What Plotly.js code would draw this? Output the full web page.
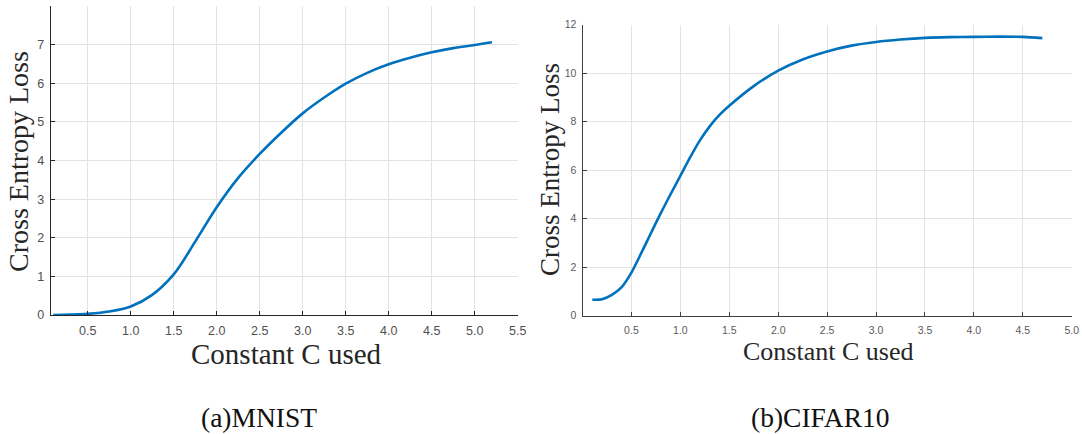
<!DOCTYPE html>
<html>
<head>
<meta charset="utf-8">
<script src="https://cdn.plot.ly/plotly-3.0.1.min.js"></script>
<style>html,body{margin:0;padding:0;background:#fff;}#chart{width:1082px;height:434px;}</style>
</head>
<body>
<div id="chart"></div>
<script>
// ---- data ----
const mnistC    = [0.1, 0.3, 0.5, 0.75, 1.0, 1.25, 1.5, 1.75, 2.0, 2.25, 2.5, 2.75, 3.0, 3.25, 3.5, 3.75, 4.0, 4.25, 4.5, 4.75, 5.0, 5.2];
const mnistLoss = [0.0, 0.01, 0.03, 0.09, 0.22, 0.52, 1.05, 1.9, 2.79, 3.55, 4.17, 4.72, 5.22, 5.63, 5.99, 6.27, 6.49, 6.66, 6.80, 6.91, 6.99, 7.06];

const cifarC    = [0.1, 0.2, 0.3, 0.4, 0.5, 0.6, 0.7, 0.8, 0.9, 1.0, 1.1, 1.2, 1.3, 1.4, 1.5, 1.75, 2.0, 2.25, 2.5, 2.75, 3.0, 3.25, 3.5, 3.75, 4.0, 4.25, 4.5, 4.7];
const cifarLoss = [0.65, 0.67, 0.85, 1.17, 1.77, 2.57, 3.4, 4.22, 5.0, 5.76, 6.52, 7.22, 7.8, 8.27, 8.65, 9.46, 10.1, 10.56, 10.89, 11.13, 11.28, 11.38, 11.45, 11.48, 11.49, 11.5, 11.49, 11.44];

const mnistXTicks = [0.5, 1.0, 1.5, 2.0, 2.5, 3.0, 3.5, 4.0, 4.5, 5.0, 5.5];
const mnistXText  = ["0.5","1.0","1.5","2.0","2.5","3.0","3.5","4.0","4.5","5.0","5.5"];
const mnistYTicks = [0, 1, 2, 3, 4, 5, 6, 7];
const cifarXTicks = [0.5, 1.0, 1.5, 2.0, 2.5, 3.0, 3.5, 4.0, 4.5, 5.0];
const cifarXText  = ["0.5","1.0","1.5","2.0","2.5","3.0","3.5","4.0","4.5","5.0"];
const cifarYTicks = [0, 2, 4, 6, 8, 10, 12];

const yTitle = "Cross Entropy Loss";
const xTitle = "Constant C used";
const captions = ["(a)MNIST", "(b)CIFAR10"];

// ---- layout helpers (pixel -> paper) ----
const W = 1082, H = 434;
const fx = p => p / W;
const fy = p => 1 - p / H;

const lineColor = "#0072BD";
const serif = "Liberation Serif, Times New Roman, serif";
const sans = "Liberation Sans, Arial, sans-serif";

const traces = [
  {x: mnistC, y: mnistLoss, xaxis: "x", yaxis: "y", mode: "lines", type: "scatter",
   line: {color: lineColor, width: 2.6, shape: "spline", smoothing: 1}, hoverinfo: "skip"},
  {x: cifarC, y: cifarLoss, xaxis: "x2", yaxis: "y2", mode: "lines", type: "scatter",
   line: {color: lineColor, width: 2.6, shape: "spline", smoothing: 0.8}, hoverinfo: "skip"}
];

function axisBase(lc, tc, fs) {
  return {
    showline: true, linecolor: lc, linewidth: 1, mirror: false,
    ticks: "inside", ticklen: 4, tickcolor: lc, tickwidth: 1,
    showgrid: true, gridcolor: "#e3e3e3", gridwidth: 1,
    zeroline: false, fixedrange: true, automargin: false,
    tickfont: {family: sans, size: fs, color: tc}
  };
}

const layout = {
  width: W, height: H,
  margin: {l: 0, r: 0, t: 0, b: 0},
  paper_bgcolor: "#fff", plot_bgcolor: "#fff",
  showlegend: false,
  xaxis: Object.assign(axisBase("#262626", "#505050", 12.5), {
    domain: [fx(50.7), fx(517.7)], range: [0.07, 5.5], anchor: "y",
    tickmode: "array", tickvals: mnistXTicks, ticktext: mnistXText, ticklabelstandoff: 4
  }),
  yaxis: Object.assign(axisBase("#262626", "#505050", 12.5), {
    domain: [fy(315), fy(6)], range: [0, 8], anchor: "x",
    tickmode: "array", tickvals: mnistYTicks, ticklabelstandoff: 3
  }),
  xaxis2: Object.assign(axisBase("#404040", "#5a5a5a", 10.5), {
    domain: [fx(582.5), fx(1071.7)], range: [0, 5], anchor: "y2",
    tickmode: "array", tickvals: cifarXTicks, ticktext: cifarXText, ticklabelstandoff: 5
  }),
  yaxis2: Object.assign(axisBase("#404040", "#5a5a5a", 10.5), {
    domain: [fy(315.5), fy(24.5)], range: [0, 12], anchor: "x2",
    tickmode: "array", tickvals: cifarYTicks, ticklabelstandoff: 3
  }),
  annotations: [
    {text: yTitle, xref: "paper", yref: "paper", x: fx(18.5), y: fy(161.5), textangle: -90,
     showarrow: false, xanchor: "center", yanchor: "middle",
     font: {family: serif, size: 28, color: "#262626"}},
    {text: xTitle, xref: "paper", yref: "paper", x: fx(286), y: fy(354),
     showarrow: false, xanchor: "center", yanchor: "middle",
     font: {family: serif, size: 29, color: "#262626"}},
    {text: yTitle, xref: "paper", yref: "paper", x: fx(550), y: fy(170), textangle: -90,
     showarrow: false, xanchor: "center", yanchor: "middle",
     font: {family: serif, size: 27, color: "#262626"}},
    {text: xTitle, xref: "paper", yref: "paper", x: fx(828), y: fy(351),
     showarrow: false, xanchor: "center", yanchor: "middle",
     font: {family: serif, size: 26, color: "#262626"}},
    {text: captions[0], xref: "paper", yref: "paper", x: fx(258.7), y: fy(417.5),
     showarrow: false, xanchor: "center", yanchor: "middle",
     font: {family: serif, size: 27.5, color: "#111"}},
    {text: captions[1], xref: "paper", yref: "paper", x: fx(820.6), y: fy(417.5),
     showarrow: false, xanchor: "center", yanchor: "middle",
     font: {family: serif, size: 27.5, color: "#111"}}
  ]
};

Plotly.newPlot("chart", traces, layout, {displayModeBar: false, staticPlot: true});
</script>
</body>
</html>
